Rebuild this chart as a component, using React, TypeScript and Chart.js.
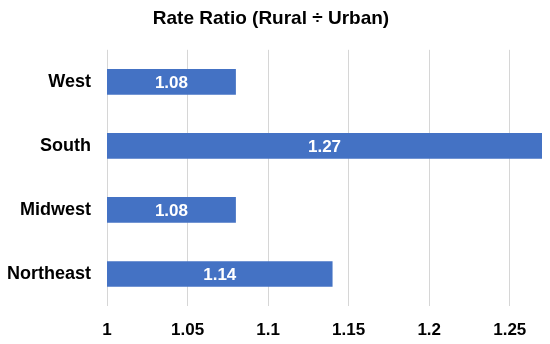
import React, { useEffect, useRef } from "react";
import { Chart, registerables } from "chart.js";

Chart.register(...registerables);

const categories = ["West", "South", "Midwest", "Northeast"];
const ratioValues = [1.08, 1.27, 1.08, 1.14];
const valueLabels = ["1.08", "1.27", "1.08", "1.14"];
const tickValues = [1, 1.05, 1.1, 1.15, 1.2, 1.25];
const tickLabels = ["1", "1.05", "1.1", "1.15", "1.2", "1.25"];
const titleText = "Rate Ratio (Rural \u00f7 Urban)";

const FONT = "'Liberation Sans', Arial, sans-serif";

const barLabelPlugin = {
  id: "barLabels",
  afterDatasetsDraw(chart: any) {
    const ctx = chart.ctx;
    const xs = chart.scales.x;
    const ys = chart.scales.y;
    ctx.save();
    ctx.fillStyle = "#ffffff";
    ctx.font = "bold 17px 'Liberation Sans', Arial, sans-serif";
    ctx.textAlign = "center";
    ctx.textBaseline = "middle";
    for (let i = 0; i < ratioValues.length; i++) {
      const x0 = xs.getPixelForValue(xs.min);
      const x1 = xs.getPixelForValue(ratioValues[i]);
      const y = ys.getPixelForValue(i);
      ctx.fillText(valueLabels[i], (x0 + x1) / 2, y + 1);
    }
    ctx.restore();
  },
};

export default function App() {
  const ref = useRef<HTMLCanvasElement | null>(null);
  useEffect(() => {
    if (!ref.current) return;
    const chart = new Chart(ref.current, {
      type: "bar",
      data: {
        labels: categories,
        datasets: [
          {
            data: ratioValues,
            backgroundColor: "#4472c4",
            borderWidth: 0,
            barPercentage: 0.4,
            categoryPercentage: 1,
          },
        ],
      },
      options: {
        indexAxis: "y",
        animation: false,
        responsive: false,
        maintainAspectRatio: false,
        layout: { padding: { left: 0, right: 8, top: 0, bottom: 0 } },
        plugins: {
          legend: { display: false },
          tooltip: { enabled: false },
          title: {
            display: true,
            text: titleText,
            color: "#000000",
            font: { family: FONT, size: 19, weight: "bold" },
            padding: { top: 7, bottom: 20 },
          },
        },
        scales: {
          x: {
            type: "linear",
            min: 1,
            max: 1.27,
            afterBuildTicks: (axis: any) => {
              axis.ticks = tickValues.map((v) => ({ value: v }));
            },
            afterFit: (axis: any) => {
              axis.height = 38;
            },
            grid: { color: "#d6d6d6", drawTicks: false, lineWidth: 1 },
            border: { display: false },
            ticks: {
              padding: 14,
              color: "#000000",
              font: { family: FONT, size: 17, weight: "bold" },
              callback: (_v: any, i: number) => tickLabels[i],
            },
          },
          y: {
            afterFit: (axis: any) => {
              axis.width = 107;
            },
            grid: { display: false, drawTicks: false },
            border: { display: false },
            ticks: {
              padding: 16,
              color: "#000000",
              font: { family: FONT, size: 18, weight: "bold" },
            },
          },
        },
      },
      plugins: [barLabelPlugin],
    });
    return () => chart.destroy();
  }, []);
  return (
    <div style={{ position: "fixed", left: 0, top: 0, width: 550, height: 344, background: "#fff" }}>
      <canvas ref={ref} width={550} height={344} style={{ width: 550, height: 344 }} />
    </div>
  );
}
